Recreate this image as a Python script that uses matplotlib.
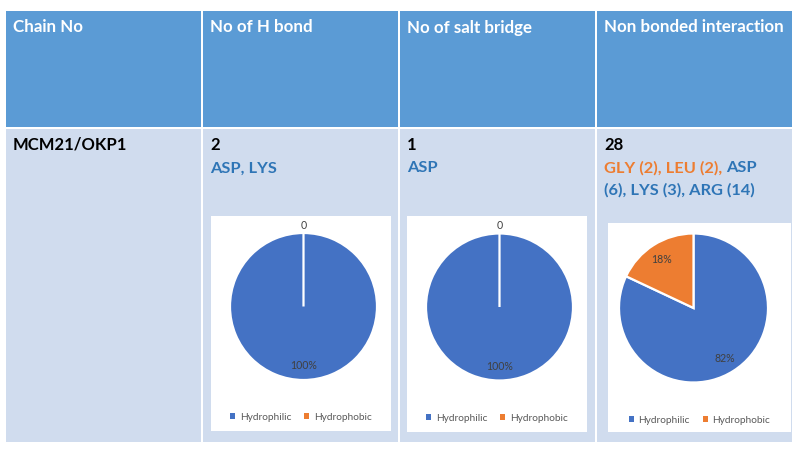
import matplotlib
matplotlib.use("Agg")
import matplotlib.pyplot as plt
from matplotlib.patches import Rectangle

plt.rcParams['font.family'] = ['Lato', 'DejaVu Sans']

# table content
headers = ["Chain No", "No of H bond", "No of salt bridge", "Non bonded interaction"]
chain_name = "MCM21/OKP1"
bond_counts = ["2", "1", "28"]
# residue lines per column: list of lines, each line a list of (text, kind)
residue_lines = [
    [[("ASP, LYS", "philic")]],
    [[("ASP", "philic")]],
    [[("GLY (2), LEU (2),", "phobic"), ("ASP", "philic")],
     [("(6), LYS (3), ARG (14)", "philic")]],
]

# pie data (percent)
pie_labels = ["Hydrophilic", "Hydrophobic"]
hydrophilic = [100, 100, 82]
hydrophobic = [0, 0, 18]

HEAD = "#5B9BD5"
BODY = "#D0DCEE"
BLUE = "#4472C4"
ORANGE = "#ED7D31"
TXT_BLUE = "#2E75B6"
TXT_ORANGE = "#ED7D31"

W, H = 800, 456
fig = plt.figure(figsize=(W / 100, H / 100), dpi=100)
ax = fig.add_axes([0, 0, 1, 1])
ax.set_xlim(0, W)
ax.set_ylim(H, 0)
ax.axis("off")

col_x = [(6, 201), (203, 398), (400, 595), (597, 792)]
head_y = (12, 128)
body_y = (130, 443)

for i, (x0, x1) in enumerate(col_x):
    ax.add_patch(Rectangle((x0, head_y[0]), x1 - x0, head_y[1] - head_y[0], color=HEAD, lw=0))
    ax.add_patch(Rectangle((x0, body_y[0]), x1 - x0, body_y[1] - body_y[0], color=BODY, lw=0))
    ax.text(x0 + 7, 32.5, headers[i], color="white", fontsize=12.2, weight="bold", va="baseline")

ax.text(col_x[0][0] + 7, 150, chain_name, color="black", fontsize=12, weight="bold", va="baseline")

fig.canvas.draw()
renderer = fig.canvas.get_renderer()
for j, cnt in enumerate(bond_counts):
    x0 = col_x[j + 1][0] + 7
    ax.text(x0, 150, cnt, color="black", fontsize=12, weight="bold", va="baseline")
    for k, line in enumerate(residue_lines[j]):
        x = x0
        y = 172.5 + k * 22
        for text, kind in line:
            c = TXT_ORANGE if kind == "phobic" else TXT_BLUE
            t = ax.text(x, y, text, color=c, fontsize=11.8, weight="bold", va="baseline")
            bb = t.get_window_extent(renderer)
            x = bb.x1 + 4

# white chart boxes and pies
boxes = [(211, 217, 391, 432), (407, 217, 587, 433), (608, 224, 791, 433)]
pie_geo = [(303.5, 307.5, 73.5), (499.5, 308, 73.5), (693.5, 309, 74.5)]
legend_y = [418, 419, 421]

for b, (bx0, by0, bx1, by1) in enumerate(boxes):
    ax.add_patch(Rectangle((bx0, by0), bx1 - bx0, by1 - by0, color="white", lw=0))
    cx, cy, r = pie_geo[b]
    pax = fig.add_axes([(cx - r) / W, 1 - (cy + r) / H, 2 * r / W, 2 * r / H])
    vals = [hydrophilic[b], hydrophobic[b]]
    wedges, texts, autotexts = pax.pie(
        vals, colors=[BLUE, ORANGE], startangle=90, counterclock=False,
        autopct=lambda p: "0" if p < 0.5 else f"{p:.0f}%", pctdistance=0.79,
        wedgeprops=dict(edgecolor="white", linewidth=1.6),
        textprops=dict(color="#404040", fontsize=7.6), frame=False)
    for v, at in zip(vals, autotexts):
        if v == 0:
            at.set_position((0, 1.12))
    pax.set_xlim(-1, 1)
    pax.set_ylim(-1, 1)
    pax.set_aspect("equal")
    leg = pax.legend(wedges, pie_labels, loc="center", ncol=2, frameon=False,
                     bbox_to_anchor=((bx0 + bx1) / 2 / W, 1 - legend_y[b] / H),
                     bbox_transform=fig.transFigure, fontsize=7.3,
                     handlelength=0.5, handleheight=0.5, handletextpad=0.45,
                     columnspacing=1.3, labelcolor="#595959")
    for h in leg.legend_handles:
        h.set_edgecolor("none")

fig.savefig("out.png", dpi=100)
